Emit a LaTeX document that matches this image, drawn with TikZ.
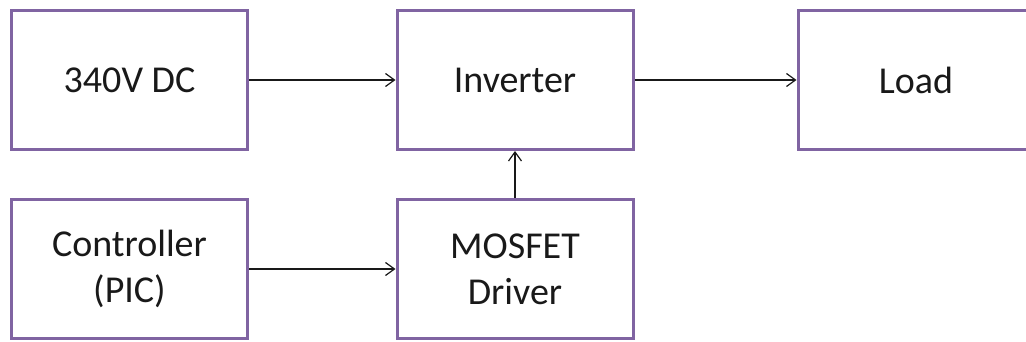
\documentclass[tikz,border=0pt]{standalone}
\usepackage{fontspec}
\setmainfont{Carlito}
\usetikzlibrary{arrows.meta}
\definecolor{boxpurple}{HTML}{8064A2}
\begin{document}
\begin{tikzpicture}[x=1pt,y=-1pt,
  blockbox/.style={draw=boxpurple, line width=3pt, fill=white, minimum width=236pt, minimum height=139pt, inner sep=0pt, align=center, font=\fontsize{38}{46}\selectfont, text=black!90},
  conn/.style={draw=black!90, line width=1.5pt, -{Straight Barb[length=9pt,width=13pt,line width=1.2pt]}}]
\useasboundingbox (0,0) rectangle (1026,342);
\clip (0,0) rectangle (1026,342);
\node[blockbox] (dc) at (129.5,80) {340V DC};
\node[blockbox] (inv) at (515,80) {Inverter};
\node[blockbox] (load) at (916,80) {Load};
\node[blockbox] (ctrl) at (129.5,269) {Controller\\(PIC)};
\node[blockbox] (drv) at (515,269) {MOSFET\\Driver};
\draw[conn] (dc) -- (inv);
\draw[conn] (inv) -- (load);
\draw[conn] (ctrl) -- (drv);
\draw[conn] (drv) -- (inv);
\end{tikzpicture}
\end{document}
